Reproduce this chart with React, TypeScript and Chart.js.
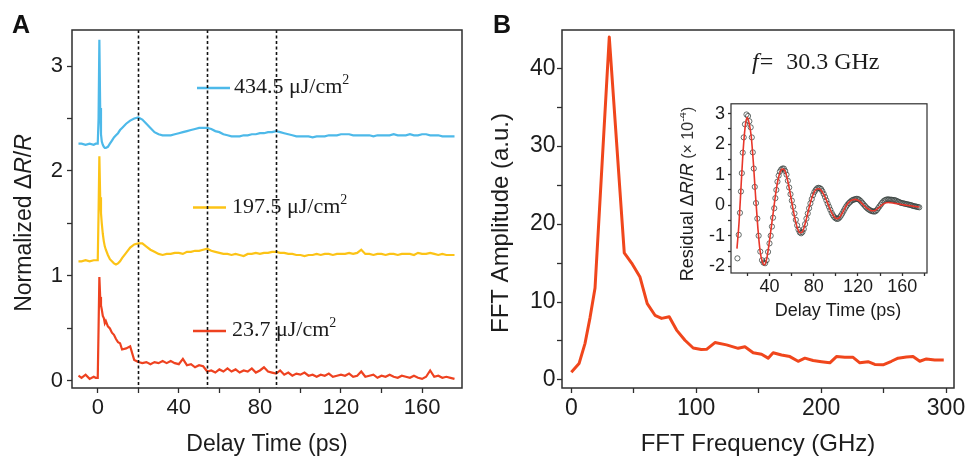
import React, { useEffect, useRef } from 'react';
import { Chart, registerables } from 'chart.js';

Chart.register(...registerables);

// ---------------- Panel A data (Delay time, ps) ----------------
const TIME_A = [
  -9.5, -8, -6, -4, -2, -1, 0, 0.4, 0.8, 1.2,
  1.6, 2, 2.5, 3, 3.5, 4, 5, 6, 7, 8,
  9, 10, 11, 12, 14, 16, 18, 20, 22, 24,
  26, 28, 30, 32, 34, 36, 38, 40, 42, 44,
  46, 48, 50, 52, 54, 56, 58, 60, 62, 64,
  66, 68, 70, 72, 74, 76, 78, 80, 82, 84,
  86, 88, 90, 92, 94, 96, 98, 100, 102, 104,
  106, 108, 110, 112, 114, 116, 118, 120, 122, 124,
  126, 128, 130, 132, 134, 136, 138, 140, 142, 144,
  146, 148, 150, 152, 154, 156, 158, 160, 162, 164,
  166, 168, 170, 172, 174, 176,
];

const BLUE_434 = [
  2.26, 2.26, 2.25, 2.26, 2.25, 2.26, 2.26, 2.5, 3.25, 2.6,
  2.35, 2.28, 2.25, 2.23, 2.22, 2.22, 2.23, 2.26, 2.29, 2.32,
  2.34, 2.36, 2.39, 2.41, 2.45, 2.48, 2.5, 2.51, 2.49, 2.45,
  2.41, 2.37, 2.35, 2.34, 2.34, 2.34, 2.35, 2.36, 2.37, 2.38,
  2.39, 2.4, 2.41, 2.41, 2.41, 2.4, 2.38, 2.37, 2.35, 2.34,
  2.33, 2.33, 2.33, 2.34, 2.34, 2.35, 2.35, 2.36, 2.36, 2.37,
  2.37, 2.38, 2.37, 2.36, 2.35, 2.34, 2.33, 2.33, 2.33, 2.33,
  2.32, 2.33, 2.33, 2.33, 2.34, 2.34, 2.34, 2.35, 2.35, 2.35,
  2.34, 2.34, 2.34, 2.34, 2.34, 2.33, 2.34, 2.34, 2.34, 2.34,
  2.35, 2.34, 2.34, 2.34, 2.35, 2.34, 2.34, 2.35, 2.35, 2.34,
  2.34, 2.34, 2.33, 2.33, 2.33, 2.33,
];

const YELLOW_197 = [
  1.14, 1.14, 1.15, 1.14, 1.15, 1.15, 1.15, 1.6, 2.14, 1.75,
  1.6, 1.5, 1.4, 1.33, 1.28, 1.25, 1.2, 1.16, 1.14, 1.12,
  1.11, 1.12, 1.14, 1.17, 1.22, 1.27, 1.3, 1.31, 1.31, 1.28,
  1.25, 1.23, 1.21, 1.2, 1.21, 1.21, 1.22, 1.22, 1.21, 1.23,
  1.23, 1.24, 1.24, 1.25, 1.26, 1.24, 1.23, 1.22, 1.21, 1.21,
  1.2, 1.21, 1.2, 1.19, 1.21, 1.21, 1.22, 1.21, 1.22, 1.22,
  1.23, 1.23, 1.22, 1.22, 1.21, 1.21, 1.2, 1.2, 1.19, 1.2,
  1.2, 1.21, 1.2, 1.21, 1.21, 1.2, 1.21, 1.21, 1.21, 1.22,
  1.21, 1.22, 1.25, 1.21, 1.21, 1.2, 1.21, 1.21, 1.2, 1.21,
  1.21, 1.2, 1.21, 1.21, 1.21, 1.2, 1.22, 1.21, 1.21, 1.22,
  1.21, 1.2, 1.21, 1.2, 1.2, 1.2,
];

const RED_23 = [
  0.05, 0.03, 0.06, 0.02, 0.04, 0.03, 0.03, 0.5, 0.99, 0.8,
  0.72, 0.68, 0.62, 0.6, 0.55, 0.57, 0.52, 0.5, 0.46, 0.44,
  0.4, 0.37, 0.36, 0.3, 0.31, 0.33, 0.2, 0.18, 0.17, 0.18,
  0.16, 0.18, 0.17, 0.19, 0.17, 0.19, 0.17, 0.16, 0.21, 0.15,
  0.16, 0.13, 0.15, 0.14, 0.09, 0.1, 0.08, 0.11, 0.09, 0.12,
  0.09, 0.11, 0.08, 0.1, 0.09, 0.12, 0.08, 0.1, 0.13, 0.09,
  0.08, 0.07, 0.1, 0.06, 0.08, 0.05, 0.07, 0.06, 0.08, 0.05,
  0.06, 0.04, 0.06, 0.05, 0.07, 0.04, 0.05, 0.06, 0.05, 0.07,
  0.04, 0.05, 0.09, 0.04, 0.05, 0.06, 0.03, 0.05, 0.04, 0.06,
  0.04, 0.03, 0.05, 0.04, 0.03, 0.05, 0.03, 0.02, 0.04, 0.1,
  0.04, 0.05, 0.03, 0.04, 0.03, 0.02,
];

const DASHED_T = [20, 54, 88];
const LEGEND_LABELS = ['434.5 μJ/cm', '197.5 μJ/cm', '23.7 μJ/cm'];

// ---------------- Panel B data (FFT) ----------------
const FFT_F = [
  0, 6.2, 11, 15, 19, 30.4, 42.4, 48.3, 55, 60.8,
  67, 72.3, 78.4, 84.3, 91, 97.6, 104, 108.3, 115, 124.3,
  133.6, 139, 145.6, 152.3, 157.6, 161.6, 168.3, 175, 181.6, 187,
  193.6, 200.3, 207, 212.3, 219, 225.6, 231, 237.6, 243, 249.6,
  256.3, 261.6, 268.3, 273.6, 279, 284.3, 291, 298.2,
];
const FFT_AMP = [
  1.0, 2.1, 4.7, 8.0, 11.8, 44.0, 16.3, 15.0, 13.2, 9.8,
  8.3, 7.9, 8.1, 6.4, 5.1, 4.1, 3.9, 3.93, 4.8, 4.5,
  4.06, 4.27, 3.5, 3.3, 2.8, 3.5, 3.2, 3.0, 2.4, 2.8,
  2.5, 2.35, 2.2, 3.0, 2.9, 2.9, 2.2, 2.35, 2.0, 1.95,
  2.4, 2.8, 2.95, 3.0, 2.4, 2.7, 2.55, 2.55,
];

// ---------------- Inset data (residual, x10^-4) ----------------
const INSET_T = [
  11.0, 12.2, 13.3, 14.2, 15.0, 15.8, 16.7, 17.8, 19.2, 20.6,
  21.8, 23.0, 24.0, 24.9, 25.8, 26.7, 27.8, 29.0, 30.2, 31.7,
  33.2, 34.6, 36.0, 37.4, 38.7, 40.0, 41.1, 42.2, 43.2, 44.3,
  45.3, 46.2, 47.2, 48.3, 49.4, 50.6, 51.8, 53.0, 54.2, 55.4,
  56.6, 57.8, 59.0, 60.2, 61.4, 62.6, 63.8, 65.0, 66.2, 67.4,
  68.6, 69.8, 71.0, 72.2, 73.4, 74.6, 75.8, 77.0, 78.2, 79.4,
  80.6, 81.8, 83.0, 84.2, 85.4, 86.6, 87.8, 89.0, 90.2, 91.4,
  92.6, 93.8, 95.0, 96.2, 97.4, 98.6, 99.8, 101.0, 102.2, 103.4,
  104.6, 105.8, 107.0, 108.2, 109.4, 110.6, 111.8, 113.0, 114.2, 115.4,
  116.6, 117.8, 119.0, 120.2, 121.4, 122.6, 123.8, 125.0, 126.2, 127.4,
  128.6, 129.8, 131.0, 132.2, 133.4, 134.6, 135.8, 137.0, 138.2, 139.4,
  140.6, 141.8, 143.0, 144.2, 145.4, 146.6, 147.8, 149.0, 150.2, 151.4,
  152.6, 153.8, 155.0, 156.2, 157.4, 158.6, 159.8, 161.0, 162.2, 163.4,
  164.6, 165.8, 167.0, 168.2, 169.4, 170.6, 171.8, 173.0, 174.2, 175.4,
];
const INSET_RESIDUAL = [
  -1.74, -0.97, -0.25, 0.45, 1.05, 1.72, 2.22, 2.65, 2.97, 2.92,
  2.75, 2.55, 2.22, 1.73, 1.2, 0.6, 0.07, -0.44, -1.0, -1.52,
  -1.8, -1.88, -1.9, -1.8, -1.53, -1.25, -1.0, -0.7, -0.41, -0.1,
  0.23, 0.5, 0.77, 0.97, 1.1, 1.17, 1.2, 1.2, 1.12, 1.0,
  0.8, 0.58, 0.36, 0.15, -0.05, -0.27, -0.48, -0.66, -0.8, -0.89,
  -0.92, -0.88, -0.78, -0.62, -0.44, -0.27, -0.1, 0.06, 0.2, 0.33,
  0.43, 0.5, 0.55, 0.57, 0.56, 0.53, 0.46, 0.37, 0.27, 0.16,
  0.05, -0.05, -0.15, -0.25, -0.33, -0.39, -0.43, -0.45, -0.44, -0.4,
  -0.34, -0.27, -0.19, -0.11, -0.04, 0.02, 0.07, 0.11, 0.15, 0.17,
  0.19, 0.2, 0.21, 0.2, 0.17, 0.13, 0.08, 0.03, -0.02, -0.07,
  -0.11, -0.14, -0.17, -0.19, -0.2, -0.21, -0.2, -0.16, -0.1, -0.04,
  0.02, 0.08, 0.13, 0.16, 0.18, 0.19, 0.19, 0.18, 0.18, 0.17,
  0.17, 0.16, 0.14, 0.12, 0.1, 0.08, 0.07, 0.06, 0.05, 0.04,
  0.03, 0.02, 0.01, 0.0, -0.02, -0.03, -0.04, -0.05, -0.06, -0.07,
];
const FIT_T = [
  10.6, 12.5, 14.5, 16.5, 18.5, 20.0, 21.5, 23.5, 25.5, 27.5,
  29.5, 31.5, 33.5, 35.5, 37.5, 39.5, 41.5, 43.5, 45.5, 47.5,
  49.5, 51.5, 53.5, 55.5, 57.5, 59.5, 61.5, 63.5, 65.5, 67.5,
  69.5, 71.5, 73.5, 75.5, 77.5, 79.5, 81.5, 83.5, 85.5, 87.5,
  89.5, 91.5, 93.5, 95.5, 97.5, 99.5, 101.5, 103.5, 105.5, 107.5,
  109.5, 111.5, 113.5, 115.5, 117.5, 119.5, 121.5, 123.5, 125.5, 127.5,
  129.5, 131.5, 133.5, 135.5, 137.5, 139.5, 141.5, 143.5, 145.5, 147.5,
  149.5, 151.5, 153.5, 155.5, 157.5, 159.5, 161.5, 163.5, 165.5, 167.5,
  169.5, 171.5, 173.5, 175.5,
];
const FIT_RESIDUAL = [
  -1.42, -0.55, 0.75, 1.95, 2.7, 2.87, 2.7, 2.25, 1.35, 0.25,
  -0.75, -1.5, -1.85, -1.95, -1.75, -1.3, -0.75, -0.2, 0.35, 0.8,
  1.07, 1.18, 1.15, 0.95, 0.62, 0.23, -0.17, -0.52, -0.78, -0.9,
  -0.88, -0.7, -0.43, -0.13, 0.15, 0.36, 0.49, 0.54, 0.53, 0.45,
  0.32, 0.16, -0.02, -0.19, -0.33, -0.42, -0.44, -0.39, -0.28, -0.14,
  -0.01, 0.09, 0.15, 0.18, 0.19, 0.17, 0.13, 0.06, -0.01, -0.08,
  -0.13, -0.17, -0.18, -0.17, -0.12, -0.06, 0.0, 0.05, 0.08, 0.09,
  0.08, 0.07, 0.06, 0.05, 0.04, 0.02, 0.01, 0.0, -0.01, -0.02,
  -0.03, -0.04, -0.05, -0.06,
];

// ---------------- styling ----------------
const SANS = '"Liberation Sans", Arial, Helvetica, sans-serif';
const SERIF = '"Liberation Serif", "Times New Roman", serif';
const FRAME = '#2e2e2e';
const TEXT = '#1c1c1c';
const C_BLUE = '#4db9e9';
const C_YELLOW = '#fcc316';
const C_RED = '#ee4220';
const C_FFT = '#f0461c';
const C_FIT = '#e8362a';

type Seg = { t: string; font: string; dy?: number; dx?: number; color?: string };

function drawRich(ctx: CanvasRenderingContext2D, segs: Seg[], x: number, y: number, rot: number, align: 'left' | 'center') {
  ctx.save();
  ctx.translate(x, y);
  ctx.rotate(rot);
  ctx.textBaseline = 'alphabetic';
  ctx.textAlign = 'left';
  let total = 0;
  for (const s of segs) {
    ctx.font = s.font;
    total += ctx.measureText(s.t).width + (s.dx || 0);
  }
  let cx = align === 'center' ? -total / 2 : 0;
  for (const s of segs) {
    ctx.font = s.font;
    cx += s.dx || 0;
    ctx.fillStyle = s.color || TEXT;
    ctx.fillText(s.t, cx, s.dy || 0);
    cx += ctx.measureText(s.t).width;
  }
  ctx.restore();
}

function drawFrame(chart: any, lw: number) {
  const { ctx, chartArea: a } = chart;
  ctx.save();
  ctx.strokeStyle = FRAME;
  ctx.lineWidth = lw;
  ctx.setLineDash([]);
  ctx.strokeRect(a.left, a.top, a.right - a.left, a.bottom - a.top);
  ctx.restore();
}

function linAxis(o: {
  min: number; max: number; step: number; labelEvery: number; horizontal: boolean; size: number;
  tick: number; pad: number; font: number; title?: string; titleFont?: number;
}) {
  return {
    type: 'linear',
    min: o.min,
    max: o.max,
    border: { display: false },
    grid: {
      display: true,
      drawOnChartArea: false,
      drawTicks: true,
      tickLength: o.tick,
      tickColor: FRAME,
      tickWidth: 1.3,
    },
    ticks: {
      stepSize: o.step,
      includeBounds: false,
      autoSkip: false,
      maxRotation: 0,
      minRotation: 0,
      maxTicksLimit: 100,
      padding: o.pad,
      color: TEXT,
      font: { family: SANS, size: o.font },
      callback: (v: any) => {
        const n = Number(v);
        const r = n / o.labelEvery;
        return Math.abs(r - Math.round(r)) < 1e-6 ? String(Math.round(n * 100) / 100) : '';
      },
    },
    title: o.title
      ? { display: true, text: o.title, color: TEXT, font: { family: SANS, size: o.titleFont, lineHeight: 1 }, padding: { top: 0, bottom: 0 } }
      : { display: false },
    afterFit: (s: any) => {
      if (o.horizontal) s.height = o.size;
      else s.width = o.size;
    },
  };
}

const SERIF22 = `22px ${SERIF}`;
const SUP = `14px ${SERIF}`;

const panelAPlugin = {
  id: 'panelADecor',
  afterDraw(chart: any) {
    const { ctx, chartArea: a, scales } = chart;
    // legend (line + label) inside the plot
    const entries = [
      { ds: 0, x0: 197, x1: 230, y: 88, tx: 234 },
      { ds: 1, x0: 193, x1: 226, y: 207.5, tx: 232 },
      { ds: 2, x0: 193, x1: 226, y: 331, tx: 232 },
    ];
    entries.forEach((e, i) => {
      const ds = chart.data.datasets[e.ds];
      ctx.save();
      ctx.strokeStyle = ds.borderColor;
      ctx.lineWidth = 2.4;
      ctx.beginPath();
      ctx.moveTo(e.x0, e.y);
      ctx.lineTo(e.x1, e.y);
      ctx.stroke();
      ctx.restore();
      drawRich(ctx, [
        { t: LEGEND_LABELS[i], font: SERIF22 },
        { t: '2', font: SUP, dy: -9 },
      ], e.tx, e.y + 5, 0, 'left');
    });
    // dashed guide lines
    ctx.save();
    ctx.strokeStyle = '#111';
    ctx.lineWidth = 1.6;
    ctx.setLineDash([3, 2.5]);
    DASHED_T.forEach((t) => {
      const px = Math.round(scales.x.getPixelForValue(t)) + 0.5;
      ctx.beginPath();
      ctx.moveTo(px, a.top);
      ctx.lineTo(px, a.bottom);
      ctx.stroke();
    });
    ctx.restore();
    drawFrame(chart, 1.5);
    // y axis title
    const f = `23px ${SANS}`;
    const fi = `italic 23px ${SANS}`;
    drawRich(ctx, [
      { t: 'Normalized Δ', font: f },
      { t: 'R', font: fi },
      { t: '/', font: f },
      { t: 'R', font: fi },
    ], 30.5, 223, -Math.PI / 2, 'center');
    // panel letter
    drawRich(ctx, [{ t: 'A', font: `bold 25px ${SANS}`, color: '#111' }], 12, 33, 0, 'left');
  },
};

const panelBPlugin = {
  id: 'panelBDecor',
  afterDraw(chart: any) {
    const { ctx } = chart;
    drawFrame(chart, 1.5);
    drawRich(ctx, [{ t: 'FFT Amplitude (a.u.)', font: `24px ${SANS}` }], 28, 223, -Math.PI / 2, 'center');
    drawRich(ctx, [{ t: 'B', font: `bold 25px ${SANS}`, color: '#111' }], 13, 33, 0, 'left');
    drawRich(ctx, [
      { t: 'f', font: `italic 24px ${SERIF}` },
      { t: '=', font: `24px ${SERIF}`, dx: 1 },
      { t: '30.3 GHz', font: `24px ${SERIF}`, dx: 13 },
    ], 272, 68.5, 0, 'left');
  },
};

const insetPlugin = {
  id: 'insetDecor',
  afterDraw(chart: any) {
    const { ctx } = chart;
    drawFrame(chart, 1.2);
    const f = `18px ${SANS}`;
    const fi = `italic 18px ${SANS}`;
    const fs = `16px ${SANS}`;
    drawRich(ctx, [
      { t: 'Residual Δ', font: f },
      { t: 'R', font: fi },
      { t: '/', font: f },
      { t: 'R', font: fi },
      { t: ' (× 10', font: fs, color: '#333' },
      { t: '-4', font: `11px ${SANS}`, dy: -7, color: '#333' },
      { t: ')', font: fs, color: '#333' },
    ], 13, 104, -Math.PI / 2, 'center');
    drawRich(ctx, [{ t: 'Delay Time (ps)', font: f }], 158, 226, 0, 'center');
  },
};

function pairs(xs: number[], ys: number[]) {
  return xs.map((x, i) => ({ x, y: ys[i] }));
}

export default function App() {
  const aRef = useRef<HTMLCanvasElement>(null);
  const bRef = useRef<HTMLCanvasElement>(null);
  const iRef = useRef<HTMLCanvasElement>(null);

  useEffect(() => {
    const common = {
      animation: false,
      responsive: false,
      maintainAspectRatio: false,
      events: [],
      plugins: { legend: { display: false }, tooltip: { enabled: false } },
    };

    const chartA = new Chart(aRef.current as HTMLCanvasElement, {
      type: 'line',
      data: {
        datasets: [
          { data: pairs(TIME_A, BLUE_434), borderColor: C_BLUE, borderWidth: 2.2, pointRadius: 0, tension: 0 },
          { data: pairs(TIME_A, YELLOW_197), borderColor: C_YELLOW, borderWidth: 2.2, pointRadius: 0, tension: 0 },
          { data: pairs(TIME_A, RED_23), borderColor: C_RED, borderWidth: 2.2, pointRadius: 0, tension: 0 },
        ],
      },
      options: {
        ...common,
        layout: { padding: { left: 0, top: 30, right: 18, bottom: 0 } },
        scales: {
          x: linAxis({ min: -12.7, max: 179.7, step: 20, labelEvery: 40, horizontal: true, size: 68, tick: 5, pad: 2, font: 22, title: 'Delay Time (ps)', titleFont: 23 }),
          y: linAxis({ min: -0.067, max: 3.343, step: 0.5, labelEvery: 1, horizontal: false, size: 72, tick: 5, pad: 4, font: 22 }),
        },
      } as any,
      plugins: [panelAPlugin],
    } as any);

    const chartB = new Chart(bRef.current as HTMLCanvasElement, {
      type: 'line',
      data: {
        datasets: [
          { data: pairs(FFT_F, FFT_AMP), borderColor: C_FFT, borderWidth: 3, pointRadius: 0, tension: 0, borderJoinStyle: 'round' },
        ],
      },
      options: {
        ...common,
        layout: { padding: { left: 0, top: 30, right: 13, bottom: 0 } },
        scales: {
          x: linAxis({ min: -7.45, max: 306.4, step: 50, labelEvery: 100, horizontal: true, size: 68, tick: 5, pad: 1.5, font: 23, title: 'FFT Frequency (GHz)', titleFont: 24 }),
          y: linAxis({ min: -1.03, max: 44.9, step: 5, labelEvery: 10, horizontal: false, size: 82, tick: 5, pad: 1.5, font: 23 }),
        },
      } as any,
      plugins: [panelBPlugin],
    } as any);

    const chartI = new Chart(iRef.current as HTMLCanvasElement, {
      type: 'line',
      data: {
        datasets: [
          { data: pairs(FIT_T, FIT_RESIDUAL), borderColor: C_FIT, borderWidth: 1.6, pointRadius: 0, cubicInterpolationMode: 'monotone' },
          {
            data: pairs(INSET_T, INSET_RESIDUAL),
            showLine: false,
            pointRadius: 2.6,
            pointBorderWidth: 0.9,
            pointBorderColor: 'rgba(55,65,62,0.85)',
            pointBackgroundColor: 'rgba(255,255,255,0)',
          },
        ],
      },
      options: {
        ...common,
        layout: { padding: { left: 0, top: 10, right: 13, bottom: 0 } },
        scales: {
          x: linAxis({ min: 5.2, max: 182.4, step: 20, labelEvery: 40, horizontal: true, size: 47, tick: 3, pad: 0, font: 18 }),
          y: linAxis({ min: -2.22, max: 3.32, step: 0.5, labelEvery: 1, horizontal: false, size: 51, tick: 3, pad: 3, font: 18 }),
        },
      } as any,
      plugins: [insetPlugin],
    } as any);

    return () => {
      chartA.destroy();
      chartB.destroy();
      chartI.destroy();
    };
  }, []);

  return (
    <div style={{ position: 'absolute', left: 0, top: 0, width: 967, height: 456, background: '#fff', overflow: 'hidden' }}>
      <canvas ref={aRef} width={480} height={456} style={{ position: 'absolute', left: 0, top: 0, width: 480, height: 456 }} />
      <canvas ref={bRef} width={487} height={456} style={{ position: 'absolute', left: 480, top: 0, width: 487, height: 456 }} />
      <canvas ref={iRef} width={260} height={230} style={{ position: 'absolute', left: 680, top: 90, width: 260, height: 230 }} />
    </div>
  );
}
